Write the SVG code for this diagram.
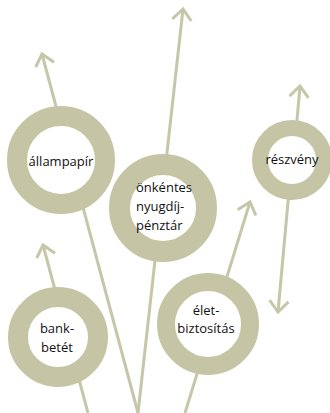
<svg xmlns="http://www.w3.org/2000/svg" width="330" height="413" viewBox="0 0 330 413">
  <style>
    .ln { fill: none; stroke: #c6c6a8; stroke-width: 3; }
    .ring { fill: #ffffff; stroke: #c5c5a5; }
    .t { font-family: "Open Sans", "Noto Sans", sans-serif; font-size: 13px; fill: #111111; }
    .c { text-anchor: middle; }
  </style>
  <defs>
    <marker id="ah" markerUnits="userSpaceOnUse" markerWidth="30" markerHeight="30" viewBox="-15 -15 30 30" refX="0" refY="0" orient="auto">
      <path d="M -11 -9.5 L 0 0 L -11 9.5" fill="none" stroke="#c6c6a8" stroke-width="3"/>
    </marker>
  </defs>
  <rect width="330" height="413" fill="#ffffff"/>
  <g id="connectors">
    <line class="ln" x1="138" y1="413" x2="42" y2="54" marker-end="url(#ah)"/>
    <line class="ln" x1="138" y1="413" x2="183" y2="9" marker-end="url(#ah)"/>
    <line class="ln" x1="88" y1="413" x2="43" y2="245" marker-end="url(#ah)"/>
    <line class="ln" x1="185" y1="413" x2="250" y2="202" marker-end="url(#ah)"/>
    <line class="ln" x1="290" y1="200" x2="300" y2="86" marker-end="url(#ah)"/>
    <line class="ln" x1="290" y1="180" x2="278" y2="312" marker-end="url(#ah)"/>
  </g>
  <g id="allampapir">
    <circle class="ring" cx="61" cy="160" r="44" stroke-width="20"/>
    <text class="t c" x="61" y="166">állampapír</text>
  </g>
  <g id="onkentes">
    <circle class="ring" cx="163" cy="208" r="43.5" stroke-width="21"/>
    <text class="t" x="136" y="192">önkéntes</text>
    <text class="t" x="136" y="211">nyugdíj-</text>
    <text class="t" x="136" y="230">pénztár</text>
  </g>
  <g id="reszveny">
    <circle class="ring" cx="292" cy="160" r="32" stroke-width="16"/>
    <text class="t c" x="292" y="164">részvény</text>
  </g>
  <g id="bankbetet">
    <circle class="ring" cx="58" cy="337" r="40" stroke-width="20"/>
    <text class="t c" x="57" y="333">bank-</text>
    <text class="t c" x="57" y="352">betét</text>
  </g>
  <g id="eletbiztositas">
    <circle class="ring" cx="208" cy="324" r="42" stroke-width="18"/>
    <text class="t c" x="206" y="315">élet-</text>
    <text class="t c" x="206" y="333">biztosítás</text>
  </g>
</svg>
